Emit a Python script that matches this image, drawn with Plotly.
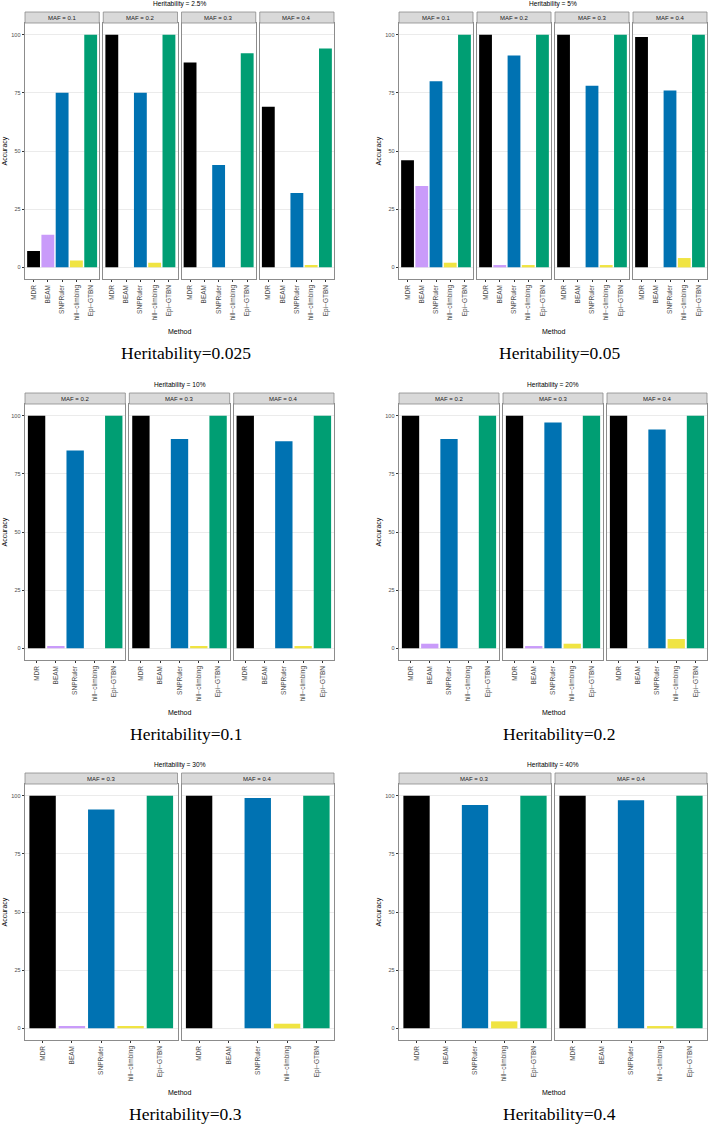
import plotly.graph_objects as go

# ---------------- data ----------------
methods = ["MDR", "BEAM", "SNPRuler", "hill\u2212climbing", "Epi\u2212GTBN"]
method_colors = ["#000000", "#C99BFA", "#0072B2", "#F0E442", "#009E73"]
y_ticks = [0, 25, 50, 75, 100]

# rows: one list per MAF, values in order of `methods`
maf_h2_5 = ["0.1", "0.2", "0.3", "0.4"]
acc_h2_5 = [[7, 14, 75, 3, 100],
            [100, 0, 75, 2, 100],
            [88, 0, 44, 0, 92],
            [69, 0, 32, 1, 94]]

maf_h5 = ["0.1", "0.2", "0.3", "0.4"]
acc_h5 = [[46, 35, 80, 2, 100],
          [100, 1, 91, 1, 100],
          [100, 0, 78, 1, 100],
          [99, 0, 76, 4, 100]]

maf_h10 = ["0.2", "0.3", "0.4"]
acc_h10 = [[100, 1, 85, 0, 100],
           [100, 0, 90, 1, 100],
           [100, 0, 89, 1, 100]]

maf_h20 = ["0.2", "0.3", "0.4"]
acc_h20 = [[100, 2, 90, 0, 100],
           [100, 1, 97, 2, 100],
           [100, 0, 94, 4, 100]]

maf_h30 = ["0.3", "0.4"]
acc_h30 = [[100, 1, 94, 1, 100],
           [100, 0, 99, 2, 100]]

maf_h40 = ["0.3", "0.4"]
acc_h40 = [[100, 0, 96, 3, 100],
           [100, 0, 98, 1, 100]]

panel_titles = ["Heritability = 2.5%", "Heritability = 5%", "Heritability = 10%",
                "Heritability = 20%", "Heritability = 30%", "Heritability = 40%"]
captions = ["Heritability=0.025", "Heritability=0.05", "Heritability=0.1",
            "Heritability=0.2", "Heritability=0.3", "Heritability=0.4"]

# ---------------- layout geometry (pixels) ----------------
W, H = 709, 1124
col_x = [(25, 334), (399, 707)]
row_y = [(23, 279), (404, 660), (784, 1040)]
GAP = 4
STRIP_H = 11

def px(x):
    return x / W

def py(y):
    return 1 - y / H

panels = [
    (0, 0, maf_h2_5, acc_h2_5),
    (0, 1, maf_h5, acc_h5),
    (1, 0, maf_h10, acc_h10),
    (1, 1, maf_h20, acc_h20),
    (2, 0, maf_h30, acc_h30),
    (2, 1, maf_h40, acc_h40),
]

SANS = "Liberation Sans, Arial, sans-serif"
SERIF = "Liberation Serif, Times New Roman, serif"

fig = go.Figure()
layout = dict(
    width=W, height=H,
    margin=dict(l=0, r=0, t=0, b=0),
    paper_bgcolor="white", plot_bgcolor="white",
    showlegend=False,
    bargap=0.1,
)
annotations = []
shapes = []

k = 0
for p_idx, (r, c, mafs, rows) in enumerate(panels):
    x0, x1 = col_x[c]
    top, bot = row_y[r]
    n = len(mafs)
    fw = (x1 - x0 - GAP * (n - 1)) / n
    for j, (maf, vals) in enumerate(zip(mafs, rows)):
        k += 1
        fx0 = x0 + j * (fw + GAP)
        fx1 = fx0 + fw
        xa = "xaxis" if k == 1 else f"xaxis{k}"
        ya = "yaxis" if k == 1 else f"yaxis{k}"
        xr = "x" if k == 1 else f"x{k}"
        yr = "y" if k == 1 else f"y{k}"
        fig.add_trace(go.Bar(
            x=methods, y=vals, marker=dict(color=method_colors, line=dict(width=0)),
            width=0.9, xaxis=xr, yaxis=yr, showlegend=False, hoverinfo="x+y"))
        layout[xa] = dict(
            domain=[px(fx0), px(fx1)], anchor=yr, type="category",
            categoryorder="array", categoryarray=methods,
            range=[-0.6, 4.6], showgrid=False, zeroline=False,
            showline=True, mirror=True, linecolor="#8C8C8C", linewidth=0.8,
            ticks="outside", ticklen=2.5, tickwidth=0.6, tickcolor="#333333",
            tickangle=-90, tickfont=dict(family=SANS, size=6.5, color="#4D4D4D"),
            fixedrange=True)
        layout[ya] = dict(
            domain=[py(bot), py(top)], anchor=xr, range=[-5, 105],
            tickvals=y_ticks, showticklabels=(j == 0),
            ticks="outside" if j == 0 else "", ticklen=2.5, tickwidth=0.6,
            tickcolor="#333333",
            tickfont=dict(family=SANS, size=5.5, color="#4D4D4D"),
            showgrid=True, gridcolor="#EBEBEB", gridwidth=0.6, zeroline=False,
            showline=True, mirror=True, linecolor="#8C8C8C", linewidth=0.8,
            fixedrange=True)
        # strip
        shapes.append(dict(type="rect", xref="paper", yref="paper",
                           x0=px(fx0), x1=px(fx1), y0=py(top), y1=py(top - STRIP_H),
                           fillcolor="#D9D9D9", line=dict(color="#8C8C8C", width=0.8)))
        annotations.append(dict(xref="paper", yref="paper",
                                x=px((fx0 + fx1) / 2), y=py(top - STRIP_H / 2),
                                text=f"MAF = {maf}", showarrow=False,
                                font=dict(family=SANS, size=6, color="#1A1A1A"),
                                xanchor="center", yanchor="middle"))
    cx = (x0 + x1) / 2
    # panel title
    annotations.append(dict(xref="paper", yref="paper", x=px(cx), y=py(top - 19),
                            text=panel_titles[p_idx], showarrow=False,
                            font=dict(family=SANS, size=6.6, color="#000000"),
                            xanchor="center", yanchor="middle"))
    # axis titles
    annotations.append(dict(xref="paper", yref="paper", x=px(cx), y=py(bot + 52),
                            text="Method", showarrow=False,
                            font=dict(family=SANS, size=7, color="#000000"),
                            xanchor="center", yanchor="middle"))
    annotations.append(dict(xref="paper", yref="paper", x=px(x0 - 20.5),
                            y=py((top + bot) / 2), text="Accuracy", showarrow=False,
                            textangle=-90,
                            font=dict(family=SANS, size=7, color="#000000"),
                            xanchor="center", yanchor="middle"))
    # caption
    annotations.append(dict(xref="paper", yref="paper", x=px(cx + 6), y=py(bot + 74),
                            text=captions[p_idx], showarrow=False,
                            font=dict(family=SERIF, size=17.5, color="#000000"),
                            xanchor="center", yanchor="middle"))

layout["annotations"] = annotations
layout["shapes"] = shapes
fig.update_layout(**layout)
fig.write_html("out.html",
               config={"displayModeBar": False},
               post_script="document.body.style.margin='0px';"
                           "document.body.style.overflow='hidden';")
